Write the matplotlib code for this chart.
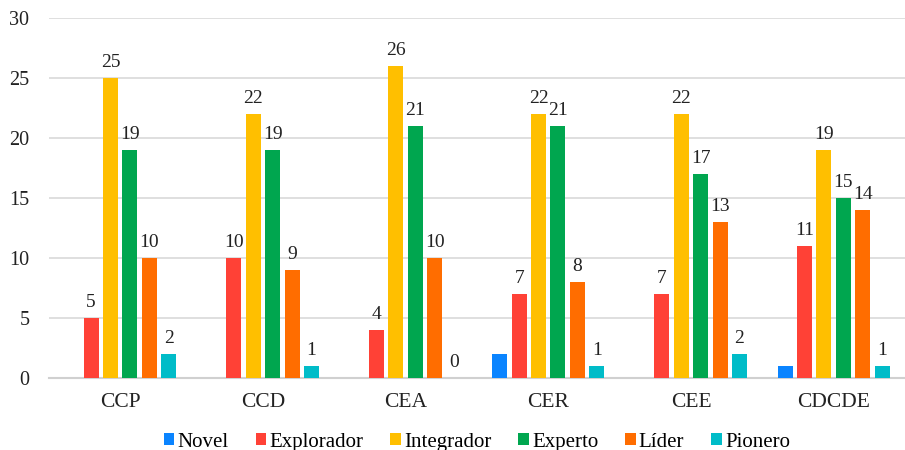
import matplotlib.pyplot as plt
import numpy as np

categories = ['CCP', 'CCD', 'CEA', 'CER', 'CEE', 'CDCDE']
series = ['Novel', 'Explorador', 'Integrador', 'Experto', 'Líder', 'Pionero']
novel = [0, 0, 0, 2, 0, 1]
explorador = [5, 10, 4, 7, 7, 11]
integrador = [25, 22, 26, 22, 22, 19]
experto = [19, 19, 21, 21, 17, 15]
lider = [10, 9, 10, 8, 13, 14]
pionero = [2, 1, 0, 1, 2, 1]
colors = ['#0A84FF', '#FF4136', '#FFBF00', '#00A64F', '#FF6D00', '#00BCC8']
# Novel has no data labels in the original
show_labels = [False, True, True, True, True, True]

plt.rcParams['font.family'] = ['Liberation Serif', 'DejaVu Serif']

fig = plt.figure(figsize=(9.05, 4.5), dpi=100)
ax = fig.add_axes([0.054, 0.16, 0.946, 0.8])

data = [novel, explorador, integrador, experto, lider, pionero]
x = np.arange(len(categories))
step = 0.136
width = 0.105
for i, (name, vals) in enumerate(zip(series, data)):
    pos = x + (i - 2.5) * step
    bars = ax.bar(pos, vals, width, color=colors[i], label=name, zorder=3)
    if show_labels[i]:
        ax.bar_label(bars, padding=5, fontsize=14, color='#222222')

ax.set_xlim(-0.5, len(categories) - 0.5)
ax.set_ylim(0, 30)
ax.set_yticks(range(0, 31, 5))
ax.set_xticks(x)
ax.set_xticklabels(categories, fontsize=15.5)
ax.tick_params(axis='y', labelsize=14.5, length=0, pad=14, labelcolor='#222222')
ax.tick_params(axis='x', length=0, pad=11, labelcolor='#222222')
ax.grid(axis='y', color='#D9D9D9', linewidth=1.2, zorder=0)
for s in ['top', 'right', 'left']:
    ax.spines[s].set_visible(False)
ax.spines['bottom'].set_color('#D0D0D0')
ax.spines['bottom'].set_linewidth(1.5)

ax.legend(loc='lower center', bbox_to_anchor=(0.5, -0.245), ncol=6, frameon=False,
          fontsize=15, handlelength=0.5, handleheight=0.5, handletextpad=0.15,
          columnspacing=1.3, borderpad=0.2)

fig.savefig('out.png', dpi=100)
